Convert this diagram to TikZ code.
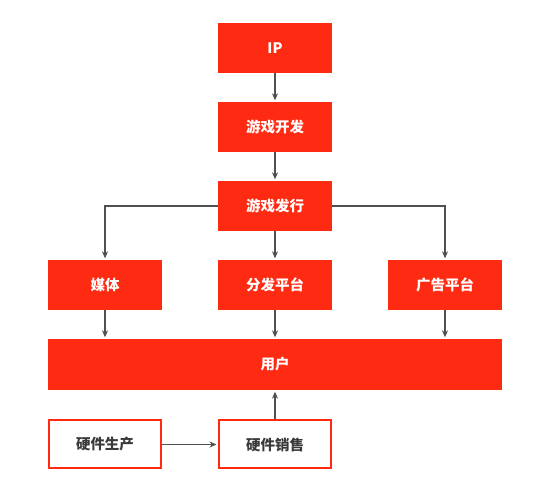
\documentclass[tikz,border=0pt]{standalone}
\usepackage{fontspec}
\setmainfont{Noto Sans CJK SC}
\usetikzlibrary{arrows.meta}
\definecolor{boxred}{HTML}{FF2A12}
\definecolor{linegray}{HTML}{505050}
\definecolor{txtgray}{HTML}{3A3A3A}
\begin{document}
\begin{tikzpicture}[x=1pt,y=-1pt,
  redbox/.style={draw=none,fill=boxred,text=white,minimum width=114pt,minimum height=50pt,inner sep=0pt,font=\fontsize{14.5}{16}\selectfont\bfseries},
  wbox/.style={draw=boxred,line width=2pt,fill=white,text=txtgray,minimum width=112pt,minimum height=48pt,inner sep=0pt,font=\fontsize{14.5}{16}\selectfont\bfseries},
  conn/.style={draw=linegray,line width=1.1pt,shorten >=1.5pt,-{Stealth[length=7pt,width=6pt]}}]
\fill[white] (0,0) rectangle (550,492);
\node[redbox] (ip) at (275,48) {IP};
\node[redbox] (dev) at (275,127) {游戏开发};
\node[redbox] (pub) at (275,206) {游戏发行};
\node[redbox] (media) at (105,285) {媒体};
\node[redbox] (dist) at (275,285) {分发平台};
\node[redbox] (ad) at (445,285) {广告平台};
\node[redbox,minimum width=454pt,minimum height=51pt] (user) at (275,364.5) {用户};
\node[wbox] (prod) at (105,444.5) {硬件生产};
\node[wbox] (sale) at (275,444.5) {硬件销售};
\draw[conn] (ip) -- (dev);
\draw[conn] (dev) -- (pub);
\draw[conn] (pub) -- (dist);
\draw[conn] (pub.west) -| (media.north);
\draw[conn] (pub.east) -| (ad.north);
\draw[conn] (media.south) -- (media.south |- user.north);
\draw[conn] (dist) -- (dist.south |- user.north);
\draw[conn] (ad.south) -- (ad.south |- user.north);
\draw[conn] (sale) -- (sale.north |- user.south);
\draw[conn] (prod) -- (sale);
\end{tikzpicture}
\end{document}
